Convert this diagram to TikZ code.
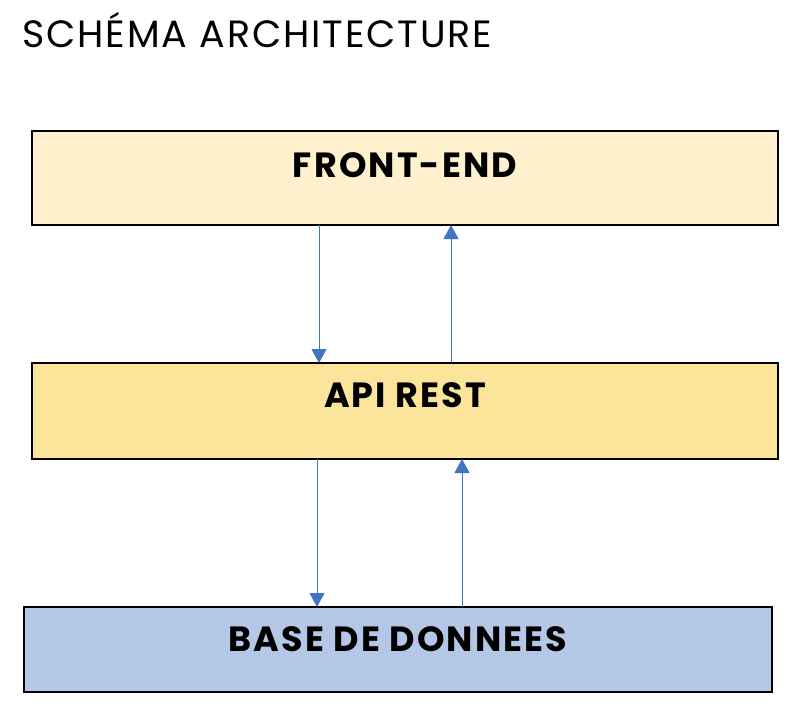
\documentclass[tikz,border=0pt]{standalone}
\usepackage{fontspec}
\setmainfont{Poppins}
\usetikzlibrary{arrows.meta}
\definecolor{feFill}{HTML}{FFF0CE}
\definecolor{apiFill}{HTML}{FDE49B}
\definecolor{dbFill}{HTML}{B4C7E7}
\definecolor{arrowBlue}{HTML}{4472C4}
\begin{document}
\begin{tikzpicture}[x=1pt,y=-1pt,
  layer/.style={draw=black, line width=1.5pt},
  lbl/.style={font=\fontsize{35}{42}\selectfont\bfseries\addfontfeatures{LetterSpace=6}, anchor=base, inner sep=0pt},
  flow/.style={draw=arrowBlue, line width=1pt, -{Triangle[width=15pt,length=14pt]}}]
\useasboundingbox (0,0) rectangle (800,726);
\node[anchor=base west, inner sep=0pt, font=\fontsize{38}{44}\selectfont\addfontfeatures{LetterSpace=5}] (title) at (22,47) {SCHÉMA ARCHITECTURE};
\path[layer, fill=feFill] (32,131) rectangle (778,225);
\path[layer, fill=apiFill] (32,363) rectangle (778,459);
\path[layer, fill=dbFill] (24,607) rectangle (772,692);
\node[lbl] (fe) at (405,177) {FRONT-END};
\node[lbl] (api) at (405,407) {API REST};
\node[lbl] (db) at (398,651) {BASE DE DONNEES};
\coordinate (a1s) at (319,225); \coordinate (a1e) at (319,363);
\coordinate (a2s) at (451,362); \coordinate (a2e) at (451,225);
\coordinate (a3s) at (317,459); \coordinate (a3e) at (317,607);
\coordinate (a4s) at (462,607); \coordinate (a4e) at (462,459);
\draw[flow] (a1s) -- (a1e);
\draw[flow] (a2s) -- (a2e);
\draw[flow] (a3s) -- (a3e);
\draw[flow] (a4s) -- (a4e);
\end{tikzpicture}
\end{document}
